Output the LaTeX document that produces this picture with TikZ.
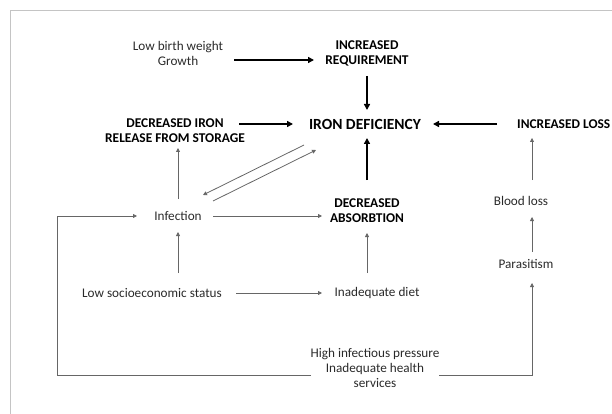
\documentclass[tikz,border=0pt]{standalone}
\usepackage{fontspec}
\setmainfont{Carlito}
\usetikzlibrary{arrows.meta}
\definecolor{linegray}{HTML}{666666}
\definecolor{txtgray}{HTML}{2A2A2A}
\definecolor{framegray}{HTML}{C4C4C4}
\tikzset{
  lbl/.style={inner sep=0pt, align=center, text=txtgray, font=\fontsize{13.2}{15}\selectfont},
  blbl/.style={inner sep=0pt, align=center, text=black, font=\fontsize{13.4}{15}\selectfont\bfseries},
  thk/.style={draw=black, line width=1.9pt, -{Triangle[length=6pt,width=6pt]}},
  thn/.style={draw=linegray, line width=0.8pt, -{Triangle[length=4pt,width=4pt]}},
}
\begin{document}
\begin{tikzpicture}[x=1pt,y=-1pt]
\useasboundingbox (0,0) rectangle (612,414);
\draw[framegray, line width=1.5pt] (10.5,414) -- (10.5,10.5) -- (612,10.5);

\node[lbl]  (lbw)   at (178,53)  {Low birth weight\\Growth};
\node[blbl] (req)   at (367,53)  {INCREASED\\REQUIREMENT};
\node[blbl, font=\fontsize{15.5}{17}\selectfont\bfseries] (iron) at (365,124) {IRON DEFICIENCY};
\node[blbl] (decrel) at (175,131) {DECREASED IRON\\RELEASE FROM STORAGE};
\node[blbl, anchor=west] (incloss) at (517,124) {INCREASED LOSS};
\node[lbl]  (inf)   at (178,216) {Infection};
\node[blbl] (decabs) at (367,211) {DECREASED\\ABSORBTION};
\node[lbl]  (blood) at (521,201) {Blood loss};
\node[lbl]  (para)  at (526,264) {Parasitism};
\node[lbl]  (ses)   at (152,293) {Low socioeconomic status};
\node[lbl]  (diet)  at (377,293) {Inadequate diet};
\node[lbl]  (hi)    at (375,368) {High infectious pressure\\Inadequate health\\services};

% thick connectors
\draw[thk] ([shift={(56,7)}]lbw.center) -- ([shift={(-53,7)}]req.center);
\draw[thk, shorten >=14pt] ([shift={(0,23)}]req.center) -- (req.center |- iron.center);
\draw[thk] ([shift={(64,-7)}]decrel.center) -- ([shift={(-72,0)}]iron.center);
\draw[thk] ([shift={(-20,0)}]incloss.west) -- ([shift={(68,0)}]iron.center);
\draw[thk, shorten >=14pt] ([shift={(0,-31)}]decabs.center) -- (decabs.center |- iron.center);

% thin connectors
\draw[thn, shorten >=17pt] ([shift={(0,-17)}]inf.center) -- (inf.center |- decrel.center);
\draw[thn] ([shift={(-61,21)}]iron.center) -- ([shift={(25,-21)}]inf.center);
\draw[thn] ([shift={(35,-15)}]inf.center) -- ([shift={(-49,26)}]iron.center);
\draw[thn, shorten <=35pt, shorten >=45pt] (inf.center) -- (decabs.center |- inf.center);
\draw[thn] ([shift={(11,-21)}]blood.center) -- ([shift={(15,14)}]incloss.west);
\draw[thn] ([shift={(6,-12)}]para.center) -- ([shift={(11,16)}]blood.center);
\draw[thn] ([shift={(26,-20)}]ses.center) -- ([shift={(0,16)}]inf.center);
\draw[thn] ([shift={(-10,-20)}]diet.center) -- ([shift={(0,22)}]decabs.center);
\draw[thn] ([shift={(84,0)}]ses.center) -- ([shift={(-55,0)}]diet.center);
\draw[thn] ([shift={(-64,7)}]hi.center) -| ([shift={(-121,0)}]inf.center) -- ([shift={(-41,0)}]inf.center);
\draw[thn] ([shift={(64,7)}]hi.center) -| ([shift={(6,19)}]para.center);
\end{tikzpicture}
\end{document}
